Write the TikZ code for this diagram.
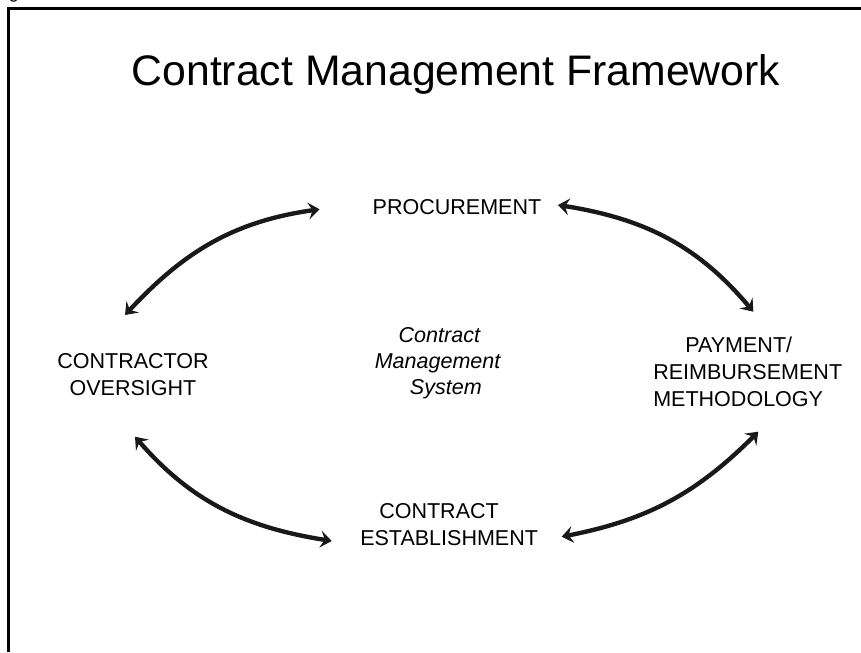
\documentclass[tikz,border=0pt]{standalone}
\usepackage{fontspec}
\setmainfont{Liberation Sans}
\usetikzlibrary{arrows.meta}

\begin{document}
\begin{tikzpicture}[x=0.025cm, y=0.025cm,
    stage/.style={font=\fontsize{15.3}{19}\selectfont, inner sep=0pt},
    loopline/.style={line width=3.1pt, black!90, <->, >={Stealth[length=8pt, width=12pt, inset=3pt]}}]
      \useasboundingbox (0,0) rectangle (861,652);
      \clip (0,0) rectangle (861,652);
      % Frame:
      \node[anchor=base, inner sep=0pt, font=\fontsize{12.8}{15}\selectfont] (cut) at (14,653) {g};
      \draw[line width=1.8pt] (861,643.5) -- (8.5,643.5) -- (8.5,0);
      % Title:
      \node[anchor=base, inner sep=0pt, font=\fontsize{30.4}{36}\selectfont] (title) at (456,566) {Contract Management Framework};
      % Stages:
      \node[stage, anchor=base] (proc) at (457,437.5) {PROCUREMENT};
      \node[stage, align=center] (over) at (133,277.2) {CONTRACTOR\\OVERSIGHT};
      \node[stage, anchor=west, align=left] (pay) at (653,280.3) {\hspace*{22.8pt}PAYMENT/\\REIMBURSEMENT\\METHODOLOGY};
      \node[stage, anchor=west, align=left] (est) at (360,127.3) {\hspace*{13.5pt}CONTRACT\\ESTABLISHMENT};
      \node[stage, anchor=west, align=left, font=\fontsize{15.3}{18.5}\selectfont\itshape] (cms) at (374.5,288.6) {\hspace*{17pt}Contract\\Management\\\hspace*{25pt}System};
      % Arrows:
      \coordinate (over-t) at (125,337);
      \coordinate (proc-l) at (319.5,442.7);
      \coordinate (proc-r) at (558,447);
      \coordinate (pay-t) at (753.3,340.3);
      \coordinate (over-b) at (135,215.3);
      \coordinate (est-l) at (331.7,111);
      \coordinate (est-r) at (561.7,115.3);
      \coordinate (pay-b) at (758.3,220.3);
      \draw[loopline] (over-t) to[out=47, in=188] (proc-l);
      \draw[loopline] (proc-r) to[out=-9, in=130] (pay-t);
      \draw[loopline] (over-b) to[out=-49, in=171] (est-l);
      \draw[loopline] (est-r) to[out=11, in=225] (pay-b);
\end{tikzpicture}
\end{document}
